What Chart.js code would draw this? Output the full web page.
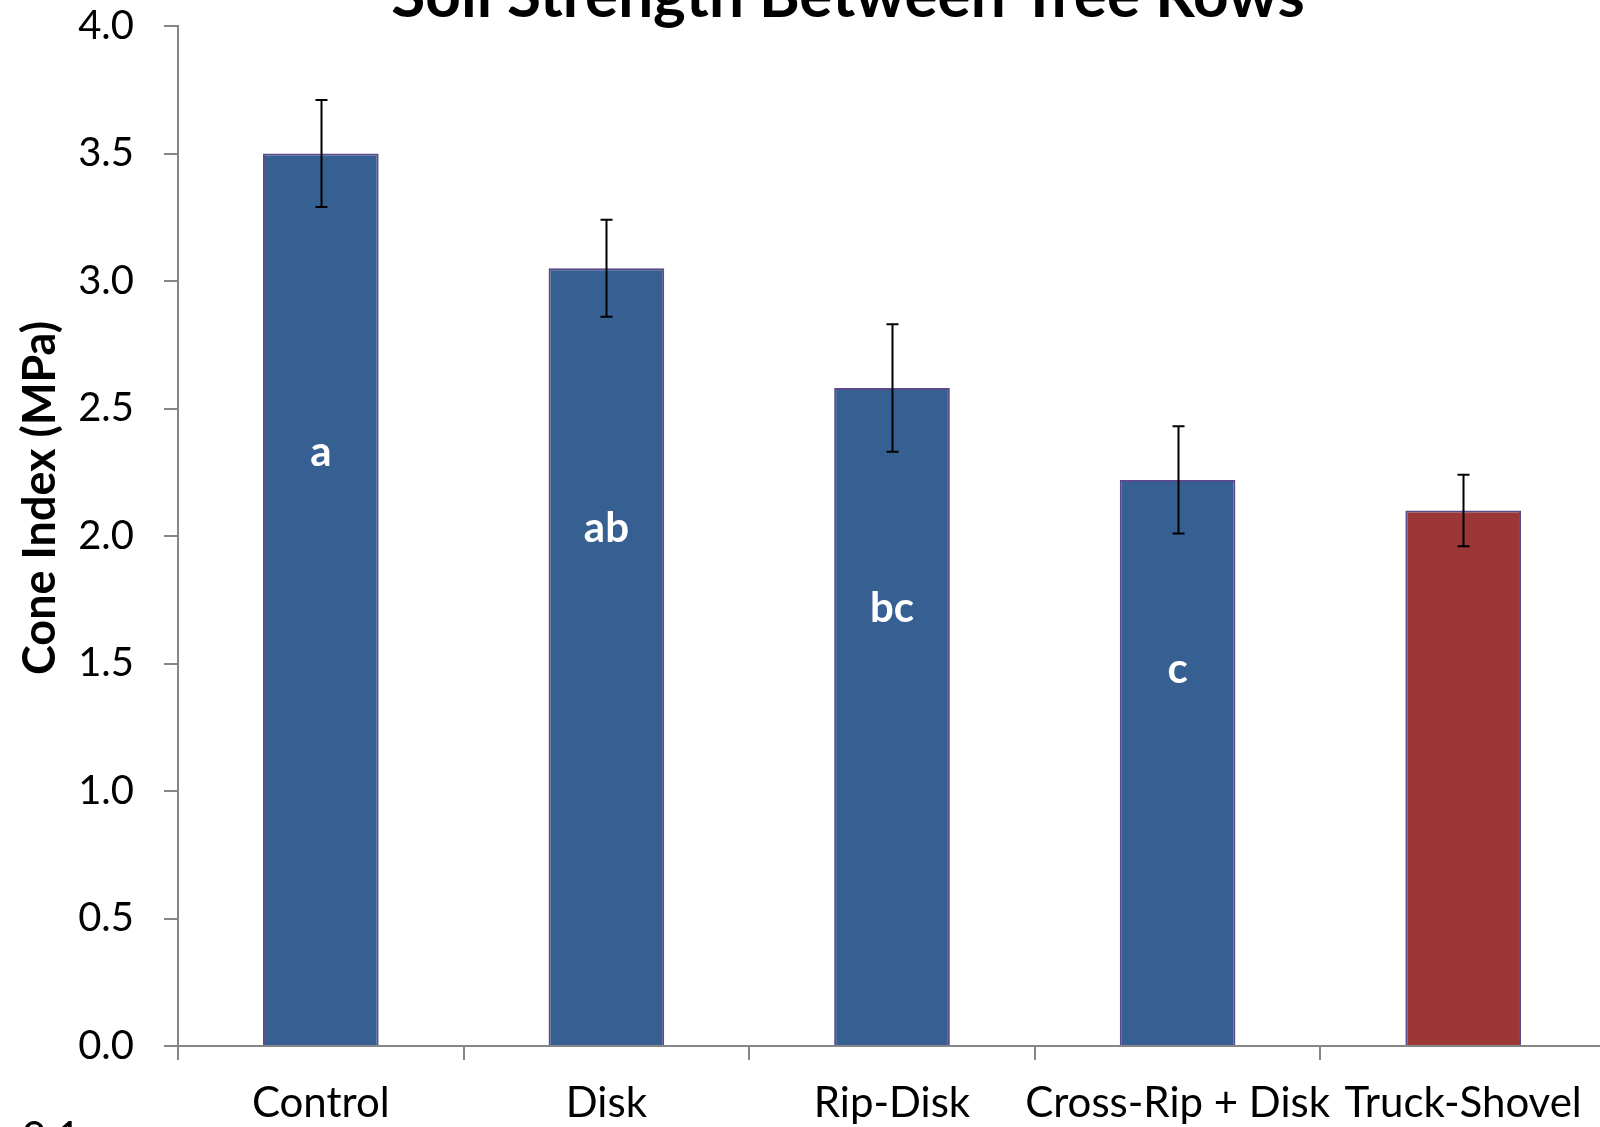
<!DOCTYPE html>
<html>
<head>
<meta charset="utf-8">
<title>Soil Strength Between Tree Rows</title>
<script src="https://cdn.jsdelivr.net/npm/chart.js@4.4.1/dist/chart.umd.min.js"></script>
<style>
  html, body { margin: 0; padding: 0; background: #ffffff; overflow: hidden; }
  #wrap { position: absolute; left: 0; top: -28px; width: 1606px; height: 1155px; }
</style>
</head>
<body>
<div id="wrap"><canvas id="chart"></canvas></div>
<script>
// Treatments and mean cone index (MPa) between tree rows
const treatments = ['Control', 'Disk', 'Rip-Disk', 'Cross-Rip + Disk', 'Truck-Shovel'];
const coneIndex = [3.50, 3.05, 2.58, 2.22, 2.10];
const stdError = [0.21, 0.19, 0.25, 0.21, 0.14];
const groupLetters = ['a', 'ab', 'bc', 'c', ''];
const barColors = ['#376092', '#376092', '#376092', '#376092', '#9B3736'];
const yTicks = [0, 0.5, 1.0, 1.5, 2.0, 2.5, 3.0, 3.5, 4.0];

const FONT = 'Lato, "Open Sans", sans-serif';
const SHIFT = 28; // the canvas sits 28px above the page top

// Whisker for each bar: mean ± standard error
const errorBars = {
  id: 'errorBars',
  afterDatasetsDraw(chart) {
    const { ctx, scales: { y } } = chart;
    const meta = chart.getDatasetMeta(0);
    ctx.save();
    ctx.strokeStyle = '#000000';
    ctx.lineWidth = 2;
    meta.data.forEach((bar, i) => {
      const x = Math.round(bar.x) + 0.5;
      const top = y.getPixelForValue(coneIndex[i] + stdError[i]);
      const bot = y.getPixelForValue(coneIndex[i] - stdError[i]);
      ctx.beginPath();
      ctx.moveTo(x, top); ctx.lineTo(x, bot);
      ctx.moveTo(x - 6, top); ctx.lineTo(x + 6, top);
      ctx.moveTo(x - 6, bot); ctx.lineTo(x + 6, bot);
      ctx.stroke();
    });
    ctx.restore();
  }
};

// Significance letters inside the bars
const letters = {
  id: 'letters',
  afterDatasetsDraw(chart) {
    const { ctx, scales: { y } } = chart;
    const meta = chart.getDatasetMeta(0);
    ctx.save();
    ctx.fillStyle = '#ffffff';
    ctx.font = 'bold 42px ' + FONT;
    ctx.textAlign = 'center';
    ctx.textBaseline = 'middle';
    meta.data.forEach((bar, i) => {
      if (!groupLetters[i]) return;
      ctx.fillText(groupLetters[i], bar.x, y.getPixelForValue(coneIndex[i] * 0.665));
    });
    ctx.restore();
  }
};

// Chart title, y-axis title and the stray caption at the lower left
const texts = {
  id: 'texts',
  afterDraw(chart) {
    const { ctx } = chart;
    ctx.save();
    ctx.fillStyle = '#000000';
    ctx.textAlign = 'center';
    ctx.textBaseline = 'alphabetic';
    ctx.font = 'bold 62px ' + FONT;
    ctx.fillText('Soil Strength Between Tree Rows', 848, 17 + SHIFT);

    ctx.translate(40, 498 + SHIFT);
    ctx.rotate(-Math.PI / 2);
    ctx.textBaseline = 'middle';
    ctx.font = 'bold 45px ' + FONT;
    ctx.fillText('Cone Index (MPa)', 0, 0);
    ctx.restore();

    ctx.save();
    ctx.fillStyle = '#000000';
    ctx.textAlign = 'left';
    ctx.textBaseline = 'alphabetic';
    ctx.font = '42px ' + FONT;
    ctx.fillText('0.1', 22, 1152 + SHIFT);
    ctx.restore();
  }
};

new Chart(document.getElementById('chart'), {
  type: 'bar',
  data: {
    labels: treatments,
    datasets: [{
      data: coneIndex,
      backgroundColor: barColors,
      borderColor: '#5A4A8A',
      borderWidth: 2,
      categoryPercentage: 1.0,
      barPercentage: 0.405
    }]
  },
  options: {
    responsive: true,
    maintainAspectRatio: false,
    animation: false,
    layout: { padding: { top: 0, left: 0, right: 0, bottom: 0 } },
    plugins: {
      legend: { display: false },
      tooltip: { enabled: false },
      title: { display: false }
    },
    scales: {
      x: {
        grid: { display: true, drawOnChartArea: false, drawTicks: true, tickLength: 14, color: '#868686', lineWidth: 2, offset: true },
        border: { display: true, color: '#868686', width: 2 },
        ticks: { color: '#000000', font: { family: FONT, size: 42 }, padding: 18, maxRotation: 0, autoSkip: false },
        afterFit(scale) { scale.height = 81; }
      },
      y: {
        min: 0,
        max: 4,
        afterBuildTicks(scale) { scale.ticks = yTicks.map(v => ({ value: v })); },
        grid: { display: true, drawOnChartArea: false, drawTicks: true, tickLength: 14, color: '#868686', lineWidth: 2 },
        border: { display: true, color: '#868686', width: 2 },
        ticks: {
          color: '#000000',
          font: { family: FONT, size: 40 },
          padding: 30,
          callback: v => Number(v).toFixed(1)
        },
        afterFit(scale) { scale.width = 178; }
      }
    }
  },
  plugins: [errorBars, letters, texts]
});
</script>
</body>
</html>
